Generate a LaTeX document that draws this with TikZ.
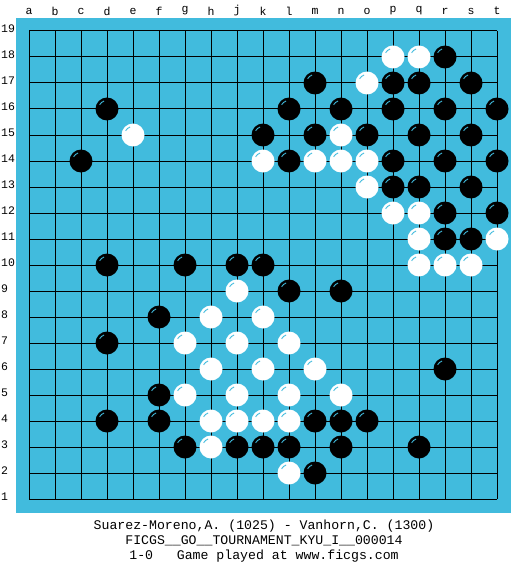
\documentclass[tikz,border=0pt]{standalone}
\usepackage{fontspec}
\setmonofont{Liberation Mono}
\usetikzlibrary{calc}
\definecolor{boardblue}{RGB}{65,187,221}

\tikzset{
  stone/.style={circle, minimum size=23pt, inner sep=0pt},
  bstone/.style={stone, fill=black},
  wstone/.style={stone, fill=white},
  shine/.style={draw=boardblue, line width=0.9pt},
  coordlabel/.style={font=\ttfamily\fontsize{11.5}{12}\selectfont, inner sep=0pt},
  caption/.style={font=\ttfamily\fontsize{13.2}{14}\selectfont, inner sep=0pt, anchor=base}
}

\begin{document}
\begin{tikzpicture}[x=1pt, y=-1pt]
\useasboundingbox (0,0) rectangle (525,575);
\fill[boardblue] (16,18) rectangle (511,513);
% grid
\foreach \i in {0,...,18} {
  \draw[line width=1pt] ({29+26*\i},31) -- ({29+26*\i},499);
  \draw[line width=1pt] (29,{31+26*\i}) -- (497,{31+26*\i});
}
% points and labels
\foreach \c [count=\i from 0] in {a,b,c,d,e,f,g,h,j,k,l,m,n,o,p,q,r,s,t} {
  \node[coordlabel] (col-\c) at ({29+26*\i},11) {\c};
  \foreach \r in {1,...,19}
    \coordinate (\c\r) at ({29+26*\i},{31+26*(19-\r)});
}
\foreach \r in {1,...,19}
  \node[coordlabel, anchor=west] (row-\r) at (1,{29+26*(19-\r)}) {\r};
% black stones
\foreach \p in {r18, m17,p17,q17,s17, d16,l16,n16,p16,r16,t16,
                k15,m15,o15,q15,s15, c14,l14,p14,r14,t14, p13,q13,s13,
                r12,t12, r11,s11, d10,g10,j10,k10, l9,n9, f8, d7, r6, f5,
                d4,f4,m4,n4,o4, g3,j3,k3,l3,n3,q3, m2} {
  \node[bstone] (b-\p) at (\p) {};
  \draw[shine] (\p) ++(-150:8.5) arc (-150:-110:8.5);
}
% white stones
\foreach \p in {p18,q18, o17, e15,n15, k14,m14,n14,o14, o13, p12,q12,
                q11,t11, q10,r10,s10, j9, h8,k8, g7,j7,l7, h6,k6,m6,
                g5,j5,l5,n5, h4,j4,k4,l4, h3, l2} {
  \node[wstone] (w-\p) at (\p) {};
  \draw[shine] (\p) ++(-150:8.5) arc (-150:-110:8.5);
}
% game info
\node[caption] (players) at (264,529) {Suarez-Moreno,A. (1025) - Vanhorn,C. (1300)};
\node[caption] (event) at (264,544) {FICGS\_\_GO\_\_TOURNAMENT\_KYU\_I\_\_000014};
\node[caption] (result) at (264,559) {1-0\ \ \ Game played at www.ficgs.com};
\end{tikzpicture}
\end{document}
